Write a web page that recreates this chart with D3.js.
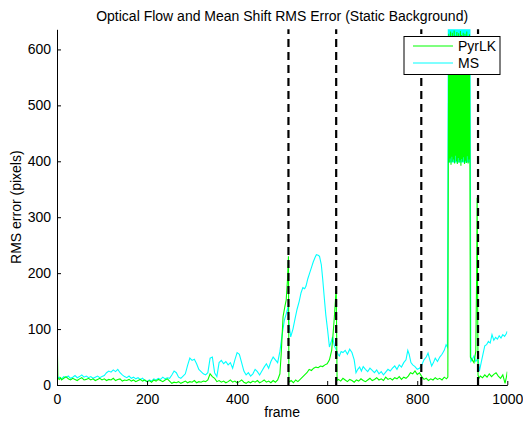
<!DOCTYPE html>
<html>
<head>
<meta charset="utf-8">
<script src="https://cdn.jsdelivr.net/npm/d3@7"></script>
<style>
  body { margin: 0; background: #fff; }
  text { font-family: "Liberation Sans", Arial, Helvetica, sans-serif; }
</style>
</head>
<body>
<script>
// [frame, rms error]
var pyrlkPoints = [
  [0,100],[2,12],[5,10],[8,13],[10,9],[15,12],[20,15],[25,11],[30,9],[35,12],[40,10],[45,8],[50,11],[55,13],[60,9],[65,10],[70,12],
  [75,9],[80,11],[85,8],[90,10],[95,12],[100,9],[105,11],[110,8],[115,10],[120,9],[125,12],[130,8],[135,10],[140,11],[145,7],
  [150,9],[155,8],[160,10],[165,7],[170,9],[175,6],[180,8],[185,10],[190,7],[195,9],[200,6],[205,8],[210,5],[215,9],[220,7],
  [225,10],[230,8],[235,6],[240,9],[245,11],[250,7],[255,3],[260,5],[265,4],[270,6],[275,3],[280,5],[285,7],[290,4],[295,6],
  [300,5],[305,8],[310,4],[315,6],[320,5],[325,7],[330,6],[335,9],[340,20],[345,15],[350,12],[355,6],[360,8],[365,5],[370,7],
  [375,4],[380,6],[385,9],[390,5],[395,7],[400,4],[405,6],[410,9],[415,5],[420,3],[425,6],[430,4],[435,7],[440,5],[445,8],
  [450,4],[455,6],[460,9],[465,5],[470,7],[475,4],[480,8],[485,5],[490,9],[495,20],[498,57],[502,122],[506,140],[509,152],
  [512,190],[514,230],[515,5],[520,8],[525,4],[530,9],[535,6],[540,10],[545,14],[550,18],[555,22],[560,28],[565,26],[570,30],
  [575,32],[580,31],[585,34],[590,33],[595,36],[600,38],[605,45],[610,62],[613,90],[616,122],[619,160],[620,176],[622,8],
  [625,10],[630,7],[635,12],[640,9],[645,6],[650,10],[655,8],[660,5],[665,9],[670,7],[675,11],[680,8],[685,6],[690,9],[695,12],
  [700,8],[705,10],[710,13],[715,9],[720,11],[725,8],[730,14],[735,10],[740,12],[745,9],[750,13],[755,11],[760,15],[765,10],
  [770,14],[775,12],[780,16],[785,22],[790,20],[795,25],[800,19],[805,22],[810,15],[815,10],[820,12],[825,8],[830,11],[835,9],
  [840,13],[845,10],[850,12],[855,9],[860,14],[865,11],[868,14],
  [869,402],[870,628],[871,398],[872,615],[873,405],[874,632],[875,394],[876,620],[877,408],[878,630],[879,399],[880,612],
  [881,403],[882,634],[883,396],[884,625],[885,410],[886,618],[887,400],[888,631],[889,395],[890,622],[891,406],[892,629],
  [893,398],[894,610],[895,402],[896,633],[897,392],[898,626],[899,404],[900,617],[901,399],[902,630],[903,407],[904,621],
  [905,395],[906,628],[907,401],[908,614],[909,397],[910,632],[911,409],[912,624],[913,396],[914,619],[915,403],[916,627],
  [917,400],[918,50],[922,45],[926,40],[930,60],[932,200],[933,335],[934,180],[935,18],[937,12],[940,16],[945,13],[950,18],
  [955,14],[960,20],[965,15],[970,19],[975,22],[980,16],[985,12],[990,18],[995,3],[998,14],[1000,24]
];

var msPoints = [
  [0,12],[5,14],[10,11],[15,15],[20,13],[25,16],[30,12],[35,14],[40,17],[45,13],[50,15],[55,18],[60,14],[65,16],[70,13],
  [75,15],[80,12],[85,14],[90,16],[95,13],[100,15],[105,17],[110,22],[115,25],[120,23],[125,27],[130,24],[135,28],[140,22],
  [145,18],[150,15],[155,13],[160,16],[165,12],[170,14],[175,11],[180,13],[185,10],[190,12],[195,8],[200,6],[205,9],[210,7],
  [215,11],[220,9],[225,12],[230,10],[235,14],[240,11],[245,13],[250,12],[255,18],[260,25],[265,22],[270,14],[275,12],
  [280,16],[285,20],[290,35],[295,48],[300,44],[305,46],[310,38],[315,28],[320,24],[325,20],[330,18],[335,22],[340,48],
  [345,50],[350,22],[355,15],[360,40],[365,44],[370,38],[375,42],[380,36],[385,40],[390,30],[395,45],[400,58],[405,55],
  [410,40],[415,25],[420,18],[425,22],[430,16],[435,20],[440,28],[445,24],[450,18],[455,25],[460,32],[465,38],[470,30],
  [475,42],[480,50],[485,45],[490,40],[495,60],[500,90],[505,116],[510,130],[513,140],[515,110],[519,86],[524,100],[528,116],
  [533,135],[538,150],[542,165],[546,174],[550,172],[553,177],[557,190],[561,200],[565,210],[569,220],[573,228],[576,233],
  [580,232],[583,230],[587,215],[590,190],[594,152],[597,125],[601,98],[605,68],[608,75],[612,86],[616,70],[620,63],[624,55],
  [627,52],[631,60],[635,58],[640,62],[645,55],[650,64],[655,58],[660,45],[664,22],[668,28],[672,32],[676,25],[680,33],
  [685,28],[690,24],[695,30],[700,26],[705,22],[710,27],[715,20],[720,24],[725,18],[730,23],[735,28],[740,25],[745,30],
  [750,34],[755,28],[760,36],[765,32],[770,40],[775,45],[779,62],[782,55],[786,40],[790,36],[795,33],[800,28],[805,30],
  [810,36],[815,45],[820,50],[824,57],[828,45],[832,34],[836,40],[840,48],[845,42],[850,50],[855,55],[860,62],[864,72],
  [867,68],[869,640],[870,398],[871,640],[872,398],[873,640],[874,398],[875,640],[876,398],[877,640],[878,398],[879,640],
  [880,398],[881,640],[882,398],[883,640],[884,398],[885,640],[886,398],[887,640],[888,398],[889,640],[890,398],[891,640],
  [892,398],[893,640],[894,398],[895,640],[896,398],[897,640],[898,398],[899,640],[900,398],[901,640],[902,398],[903,640],
  [904,398],[905,640],[906,398],[907,640],[908,398],[909,640],[910,398],[911,640],[912,398],[913,640],[914,398],[915,640],
  [916,398],[917,640],[918,398],[919,42],[922,45],[926,52],[930,42],[935,48],[938,25],[942,40],[946,55],[950,70],[954,72],
  [958,78],[962,75],[966,90],[970,80],[974,85],[978,82],[982,88],[986,84],[990,90],[994,87],[998,92],[1000,96]
];

var boundaryFrames = [514, 620, 809, 935]; // dashed scene boundaries
var xTicks = [0, 200, 400, 600, 800, 1000];
var yTicks = [0, 100, 200, 300, 400, 500, 600];
var seriesNames = ['PyrLK', 'MS'];
var seriesColors = ['#00ff00', '#00ffff'];

var scr = { w: 523, h: 425 };
var margins = { left: 57, right: 15.7, top: 29.3, bottom: 40 };
var w = scr.w - margins.left - margins.right;
var h = scr.h - margins.top - margins.bottom;

var svg = d3.select('body')
            .append('svg')
            .attr('width', scr.w)
            .attr('height', scr.h);

var xScale = d3.scaleLinear().domain([0, 1000]).range([0, w]);
var yScale = d3.scaleLinear().domain([0, 636]).range([h, 0]);

var plot = svg.append('g')
              .attr('transform', 'translate(' + margins.left + ',' + margins.top + ')');

plot.append('clipPath')
    .attr('id', 'clip')
    .append('rect')
    .attr('width', w)
    .attr('height', h);

var line = d3.line()
             .x(function(d){ return xScale(d[0]); })
             .y(function(d){ return yScale(d[1]); });

var lines = plot.append('g').attr('clip-path', 'url(#clip)');

// MS underneath, PyrLK on top
lines.append('path')
     .datum(msPoints)
     .attr('d', line)
     .attr('fill', 'none')
     .attr('stroke', seriesColors[1])
     .attr('stroke-width', 1.1);

lines.append('path')
     .datum(pyrlkPoints)
     .attr('d', line)
     .attr('fill', 'none')
     .attr('stroke', seriesColors[0])
     .attr('stroke-width', 1.1);

plot.selectAll('.boundary')
    .data(boundaryFrames)
    .enter()
    .append('line')
    .classed('boundary', true)
    .attr('x1', function(d){ return xScale(d); })
    .attr('x2', function(d){ return xScale(d); })
    .attr('y1', yScale(0))
    .attr('y2', yScale(636))
    .attr('stroke', '#000')
    .attr('stroke-width', 2.2)
    .attr('stroke-dasharray', '8,5');

// axes, ticks pointing inward like matlab
var xAxis = d3.axisBottom(xScale).tickValues(xTicks).tickFormat(d3.format('d'))
              .tickSizeInner(-4).tickSizeOuter(0).tickPadding(9);
var yAxis = d3.axisLeft(yScale).tickValues(yTicks).tickFormat(d3.format('d'))
              .tickSizeInner(-4).tickSizeOuter(0).tickPadding(6);

var gx = plot.append('g')
             .attr('transform', 'translate(0,' + h + ')')
             .call(xAxis);
var gy = plot.append('g').call(yAxis);

[gx, gy].forEach(function(g){
  g.select('.domain').attr('stroke', '#000');
  g.selectAll('.tick line').attr('stroke', '#000');
  g.selectAll('.tick text')
   .attr('fill', '#000')
   .style('font-size', '14px')
   .style('font-family', '"Liberation Sans", Arial, sans-serif');
});

svg.append('text')
   .attr('x', margins.left + w / 2)
   .attr('y', 20.5)
   .attr('text-anchor', 'middle')
   .style('font-size', '14px')
   .text('Optical Flow and Mean Shift RMS Error (Static Background)');

svg.append('text')
   .attr('x', margins.left + w / 2)
   .attr('y', 417)
   .attr('text-anchor', 'middle')
   .style('font-size', '14px')
   .text('frame');

svg.append('text')
   .attr('transform', 'translate(21,' + (margins.top + h / 2) + ') rotate(-90)')
   .attr('text-anchor', 'middle')
   .style('font-size', '14px')
   .text('RMS error (pixels)');

// legend
var legend = svg.append('g').attr('transform', 'translate(404,36.5)');
legend.append('rect')
      .attr('width', 96)
      .attr('height', 38)
      .attr('fill', '#fff')
      .attr('stroke', '#000')
      .attr('stroke-width', 1);

var items = legend.selectAll('.item')
                  .data(seriesNames)
                  .enter()
                  .append('g')
                  .classed('item', true)
                  .attr('transform', function(d, i){ return 'translate(0,' + (9.5 + i * 17) + ')'; });
items.append('line')
     .attr('x1', 9)
     .attr('x2', 49)
     .attr('stroke', function(d, i){ return seriesColors[i]; })
     .attr('stroke-width', 1.1);
items.append('text')
     .attr('x', 54)
     .attr('y', 5)
     .style('font-size', '14px')
     .text(function(d){ return d; });
</script>
</body>
</html>
